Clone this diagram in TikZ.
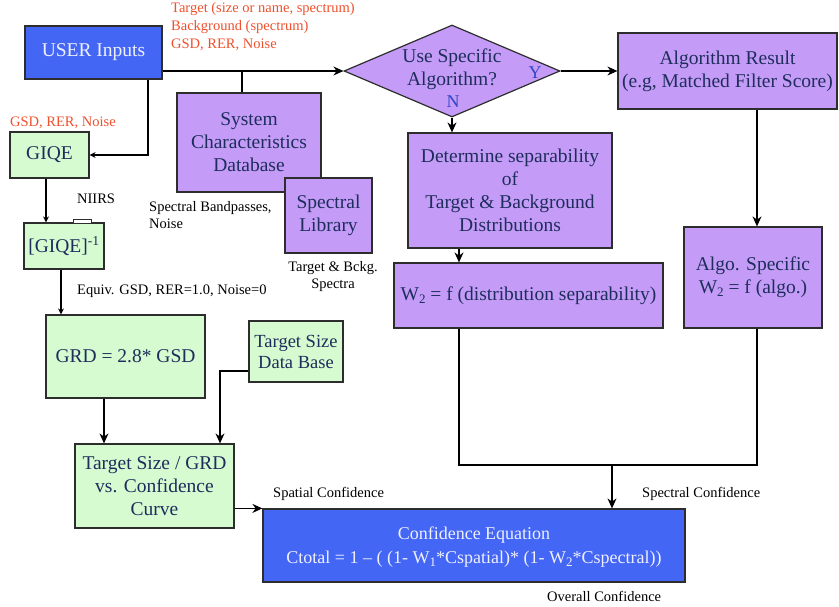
\documentclass[tikz,border=0pt]{standalone}
\usepackage{fontspec}
\setmainfont{Liberation Serif}
\usetikzlibrary{shapes.geometric,arrows.meta}
\definecolor{ublue}{RGB}{68,102,245}
\definecolor{upurple}{RGB}{196,156,247}
\definecolor{ugreen}{RGB}{215,251,208}
\definecolor{uborder}{RGB}{45,45,45}
\definecolor{unavy}{RGB}{30,45,92}
\definecolor{ured}{RGB}{240,80,45}
\definecolor{uyn}{RGB}{50,68,200}
\definecolor{uwhite}{RGB}{238,240,255}
\newcommand{\lowsub}[1]{\raisebox{-0.35ex}{\fontsize{13}{13}\selectfont #1}}
\tikzset{
  boxbase/.style={draw=uborder, line width=1.2pt, inner sep=2pt, align=center, text=unavy,
    font=\fontsize{19.5}{23}\selectfont},
  bluebox/.style={boxbase, fill=ublue, text=uwhite},
  purplebox/.style={boxbase, fill=upurple},
  greenbox/.style={boxbase, fill=ugreen},
  redlbl/.style={text=ured, font=\fontsize{14.5}{18}\selectfont, inner sep=0pt, align=left},
  blacklbl/.style={text=black, font=\fontsize{14.5}{17}\selectfont, inner sep=0pt},
  conn/.style={line width=1.2pt, draw=black},
  arr/.style={conn, -{Stealth[length=10pt,width=9pt]}},
  sarr/.style={conn, -{Stealth[length=6pt,width=6pt]}},
}
\begin{document}
\begin{tikzpicture}[x=1pt,y=-1pt]
\useasboundingbox (0,0) rectangle (839,607);
\fill[white] (0,0) rectangle (839,607);

% nodes
\node[bluebox, minimum width=137pt, minimum height=53pt] (user) at (93.5,52.5) {USER Inputs};
\node[diamond, draw=uborder, line width=1.2pt, fill=upurple, inner sep=0pt,
      minimum width=216pt, minimum height=92pt] (dia) at (452,71) {};
\node[text=unavy, align=center, font=\fontsize{19.5}{23}\selectfont, inner sep=0pt] (diatxt) at (452,69) {Use Specific\\Algorithm?};
\node[text=uyn, font=\fontsize{18}{20}\selectfont, inner sep=0pt] (ylbl) at (535,73) {Y};
\node[text=uyn, font=\fontsize{18}{20}\selectfont, inner sep=0pt] (nlbl) at (453,102) {N};
\node[purplebox, minimum width=219pt, minimum height=76pt] (algres) at (727.5,71) {Algorithm Result\\(e.g, Matched Filter Score)};
\node[purplebox, minimum width=144pt, minimum height=99pt] (sys) at (249,142.5) {System\\Characteristics\\Database};
\node[purplebox, minimum width=87pt, minimum height=75pt] (speclib) at (328.5,215.5) {Spectral\\Library};
\node[purplebox, minimum width=204pt, minimum height=115pt] (det) at (510,190.5) {Determine separability\\of\\Target \& Background\\Distributions};
\node[purplebox, minimum width=269pt, minimum height=65pt] (w2d) at (528.5,295.5) {W\lowsub{2} = f (distribution separability)};
\node[purplebox, minimum width=138pt, minimum height=101pt] (algo) at (753,277.5) {Algo. Specific\\W\lowsub{2} = f (algo.)};
\node[greenbox, minimum width=79pt, minimum height=46pt] (giqe) at (49.5,155) {GIQE};
\node[greenbox, minimum width=80pt, minimum height=46pt] (giqei) at (64,246) {[GIQE]\textsuperscript{-1}};
\node[greenbox, minimum width=159pt, minimum height=83pt] (grd) at (125.5,356.5) {GRD = 2.8* GSD};
\node[greenbox, minimum width=94pt, minimum height=61pt, font=\fontsize{18.5}{21}\selectfont] (tsdb) at (296,351.5) {Target Size\\Data Base};
\node[greenbox, minimum width=159pt, minimum height=84pt] (tsc) at (154.5,486) {Target Size / GRD\\vs. Confidence\\Curve};
\node[bluebox, minimum width=422pt, minimum height=73pt, font=\fontsize{18}{24}\selectfont, text depth=0pt] (conf) at (474,545.5) {Confidence Equation\\Ctotal = 1 -- ( (1- W\lowsub{1}*Cspatial)* (1- W\lowsub{2}*Cspectral))};

% small tab on [GIQE]^-1
\draw[uborder, line width=0.8pt, fill=white] (73,223) rectangle (91,219);

% labels
\node[redlbl, anchor=north west] (redtop) at (171,2) {Target (size or name, spectrum)\\Background (spectrum)\\GSD, RER, Noise};
\node[redlbl, anchor=west] (redgiqe) at (10,123) {GSD, RER, Noise};
\node[blacklbl, anchor=west] (niirs) at (77,199) {NIIRS};
\node[blacklbl, anchor=north west, align=left] (bandp) at (149,201) {Spectral Bandpasses,\\Noise};
\node[blacklbl, anchor=north, align=center] (tbspec) at (333,261) {Target \& Bckg.\\Spectra};
\node[blacklbl, anchor=west] (equiv) at (77,291) {Equiv. GSD, RER=1.0, Noise=0};
\node[blacklbl, anchor=west] (spat) at (273,494) {Spatial Confidence};
\node[blacklbl, anchor=west] (spec) at (642,494) {Spectral Confidence};
\node[blacklbl, anchor=west] (overall) at (547,596) {Overall Confidence};

% connectors
\draw[arr] (user.east |- dia.west) -- (dia.west);
\draw[conn] ([xshift=-7pt]sys.north) -- ([xshift=-7pt]sys.north |- dia.west);
\draw[sarr] ([xshift=54.5pt]user.south) |- (giqe.east);
\draw[sarr] ([xshift=-3.5pt]giqe.south) -- ([xshift=-3.5pt]giqe.south |- giqei.north);
\draw[sarr] ([xshift=-3pt]giqei.south) -- ([xshift=-3pt]giqei.south |- grd.north);
\draw[arr] ([xshift=-21.5pt]grd.south) -- ([xshift=-21.5pt]grd.south |- tsc.north);
\draw[arr] ([yshift=-19.5pt]tsdb.west) -| ([xshift=65.5pt]tsc.north);
\draw[arr] (tsc.east |- conf.north west) -- (conf.north west);
\draw[arr] (dia.east) -- (algres.west);
\draw[arr] (dia.south) -- (dia.south |- det.north);
\draw[arr] ([xshift=-51pt]det.south) -- ([xshift=-51pt]det.south |- w2d.north);
\draw[arr] ([xshift=29.5pt]algres.south) -- ([xshift=29.5pt]algres.south |- algo.north);
\coordinate (jn) at (612,465);
\draw[conn] ([xshift=-69.5pt]w2d.south) |- (jn) -| ([xshift=4pt]algo.south);
\draw[arr] (jn) -- (jn |- conf.north);
\end{tikzpicture}
\end{document}
